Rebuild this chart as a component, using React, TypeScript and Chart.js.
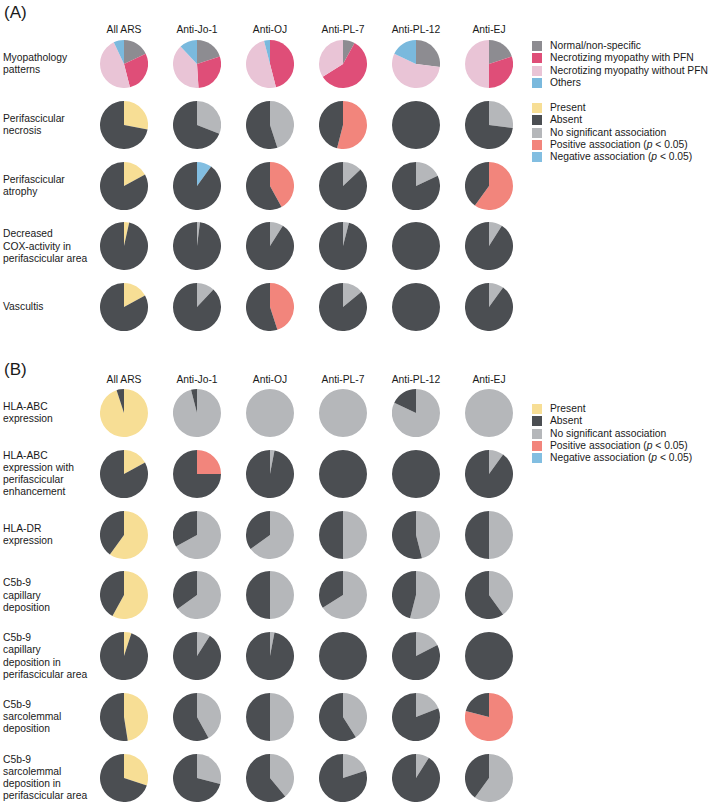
import React, { useEffect, useRef } from "react";
import { Chart, registerables } from "chart.js";

Chart.register(...registerables);

// ---------- DATA ----------
const columns = ["All ARS", "Anti-Jo-1", "Anti-OJ", "Anti-PL-7", "Anti-PL-12", "Anti-EJ"];

// Section A, row 1: myopathology patterns (% of patients)
const normalNonSpecific = [18, 20, 0, 8, 27, 20];
const necrotizingWithPFN = [28, 29, 46, 58, 0, 30];
const necrotizingWithoutPFN = [47, 39, 50, 34, 55, 50];
const othersPattern = [7, 12, 4, 0, 18, 0];

// Binary rows: share of the first slice (present / association), rest = absent
const necrosisShare = [28, 31, 45, 54, 0, 27];
const necrosisKind = ["present", "ns", "ns", "pos", "ns", "ns"];
const atrophyShare = [17, 10, 42, 13, 18, 60];
const atrophyKind = ["present", "neg", "pos", "ns", "ns", "pos"];
const coxShare = [3.5, 2, 9, 4, 0, 9];
const coxKind = ["present", "ns", "ns", "ns", "ns", "ns"];
const vasculitisShare = [17, 12, 45, 14, 0, 10];
const vasculitisKind = ["present", "ns", "pos", "ns", "ns", "ns"];

// Section B
const hlaAbcShare = [95, 96, 100, 100, 82, 100];
const hlaAbcKind = ["present", "ns", "ns", "ns", "ns", "ns"];
const hlaAbcPfShare = [17, 25, 3, 0, 0, 10];
const hlaAbcPfKind = ["present", "pos", "ns", "ns", "ns", "ns"];
const hlaDrShare = [60, 67, 65, 50, 46, 50];
const hlaDrKind = ["present", "ns", "ns", "ns", "ns", "ns"];
const c5CapShare = [58, 65, 50, 66, 54, 40];
const c5CapKind = ["present", "ns", "ns", "ns", "ns", "ns"];
const c5CapPfShare = [5, 9, 3, 0, 17.5, 0];
const c5CapPfKind = ["present", "ns", "ns", "ns", "ns", "ns"];
const c5SarcShare = [47.5, 42, 50, 41, 19, 79];
const c5SarcKind = ["present", "ns", "ns", "ns", "ns", "pos"];
const c5SarcPfShare = [30, 29, 39, 20, 9, 60];
const c5SarcPfKind = ["present", "ns", "ns", "ns", "ns", "ns"];

const patternLabels = ["Normal/non-specific", "Necrotizing myopathy with PFN", "Necrotizing myopathy without PFN", "Others"];
const statusLabels = ["Present", "Absent", "No significant association", "Positive association", "Negative association"];

// ---------- STYLE ----------
const patternColors = ["#8d8c91", "#df4e78", "#e9c4d6", "#7ab9dd"];
const kindColors: Record<string, string> = {
  present: "#f7de95",
  absent: "#4b4e52",
  ns: "#b5b7ba",
  pos: "#f2857c",
  neg: "#82bee1",
};
const FONT = '"Liberation Sans", Arial, Helvetica, sans-serif';
const colX = [124, 197, 270, 343, 416, 489];
const PIE = 48;
const ROW_GAP = 60.8;

type Row = { label: string[]; share?: number[]; kind?: string[]; pattern?: boolean };

const rowsA: Row[] = [
  { label: ["Myopathology", "patterns"], pattern: true },
  { label: ["Perifascicular", "necrosis"], share: necrosisShare, kind: necrosisKind },
  { label: ["Perifascicular", "atrophy"], share: atrophyShare, kind: atrophyKind },
  { label: ["Decreased", "COX-activity in", "perifascicular area"], share: coxShare, kind: coxKind },
  { label: ["Vascultis"], share: vasculitisShare, kind: vasculitisKind },
];
const rowsB: Row[] = [
  { label: ["HLA-ABC", "expression"], share: hlaAbcShare, kind: hlaAbcKind },
  { label: ["HLA-ABC", "expression with", "perifascicular", "enhancement"], share: hlaAbcPfShare, kind: hlaAbcPfKind },
  { label: ["HLA-DR", "expression"], share: hlaDrShare, kind: hlaDrKind },
  { label: ["C5b-9", "capillary", "deposition"], share: c5CapShare, kind: c5CapKind },
  { label: ["C5b-9", "capillary", "deposition in", "perifascicular area"], share: c5CapPfShare, kind: c5CapPfKind },
  { label: ["C5b-9", "sarcolemmal", "deposition"], share: c5SarcShare, kind: c5SarcKind },
  { label: ["C5b-9", "sarcolemmal", "deposition in", "perifascicular area"], share: c5SarcPfShare, kind: c5SarcPfKind },
];

type Cell = { x: number; y: number; labels: string[]; data: number[]; colors: string[] };

function buildCells(rows: Row[], firstY: number): Cell[] {
  const cells: Cell[] = [];
  rows.forEach((r, ri) => {
    const y = firstY + ri * ROW_GAP;
    columns.forEach((_, ci) => {
      if (r.pattern) {
        cells.push({
          x: colX[ci],
          y,
          labels: patternLabels,
          data: [normalNonSpecific[ci], necrotizingWithPFN[ci], necrotizingWithoutPFN[ci], othersPattern[ci]],
          colors: patternColors,
        });
      } else {
        const s = r.share![ci];
        const k = r.kind![ci];
        cells.push({
          x: colX[ci],
          y,
          labels: [k, "Absent"],
          data: [s, 100 - s],
          colors: [kindColors[k], kindColors.absent],
        });
      }
    });
  });
  return cells;
}

const cellsA = buildCells(rowsA, 64);
const cellsB = buildCells(rowsB, 413);
const allCells = [...cellsA, ...cellsB];

const textStyle: React.CSSProperties = {
  position: "absolute",
  fontFamily: FONT,
  fontSize: "10.3px",
  lineHeight: "12.2px",
  color: "#1a1a1a",
  whiteSpace: "nowrap",
};

function RowLabels({ rows, firstY }: { rows: Row[]; firstY: number }) {
  return (
    <>
      {rows.map((r, i) => (
        <div key={i} style={{ ...textStyle, left: 3, top: firstY + i * ROW_GAP, transform: "translateY(-50%)" }}>
          {r.label.map((l, j) => (
            <div key={j}>{l}</div>
          ))}
        </div>
      ))}
    </>
  );
}

function Headers({ y }: { y: number }) {
  return (
    <>
      {columns.map((c, i) => (
        <div key={i} style={{ ...textStyle, left: colX[i], top: y, transform: "translate(-50%,-50%)" }}>
          {c}
        </div>
      ))}
    </>
  );
}

function Legend({ items, colors, top }: { items: React.ReactNode[]; colors: string[]; top: number }) {
  return (
    <>
      {items.map((it, i) => (
        <React.Fragment key={i}>
          <div
            style={{
              position: "absolute",
              left: 532,
              top: top + i * 12.3 - 5,
              width: 10,
              height: 10,
              background: colors[i],
            }}
          />
          <div style={{ ...textStyle, left: 550, top: top + i * 12.3, transform: "translateY(-50%)" }}>{it}</div>
        </React.Fragment>
      ))}
    </>
  );
}

const statusItems: React.ReactNode[] = [
  statusLabels[0],
  statusLabels[1],
  statusLabels[2],
  <span>
    {statusLabels[3]} (<i>p</i> &lt; 0.05)
  </span>,
  <span>
    {statusLabels[4]} (<i>p</i> &lt; 0.05)
  </span>,
];
const statusColors = [kindColors.present, kindColors.absent, kindColors.ns, kindColors.pos, kindColors.neg];

export default function App() {
  const refs = useRef<(HTMLCanvasElement | null)[]>([]);

  useEffect(() => {
    const charts: Chart[] = [];
    allCells.forEach((cell, i) => {
      const cv = refs.current[i];
      if (!cv) return;
      charts.push(
        new Chart(cv, {
          type: "pie",
          data: {
            labels: cell.labels,
            datasets: [{ data: cell.data, backgroundColor: cell.colors, borderWidth: 0 }],
          },
          options: {
            responsive: false,
            animation: false,
            events: [],
            layout: { padding: 0 },
            plugins: { legend: { display: false }, tooltip: { enabled: false } },
          },
        })
      );
    });
    return () => charts.forEach((c) => c.destroy());
  }, []);

  return (
    <div style={{ position: "absolute", left: 0, top: 0, width: 709, height: 806, background: "#fff", overflow: "hidden" }}>
      <div style={{ ...textStyle, left: 4, top: 3, fontSize: "17px", lineHeight: "20px" }}>(A)</div>
      <div style={{ ...textStyle, left: 4, top: 360, fontSize: "17px", lineHeight: "20px" }}>(B)</div>
      <Headers y={30} />
      <Headers y={380} />
      <RowLabels rows={rowsA} firstY={64} />
      <RowLabels rows={rowsB} firstY={413} />
      <Legend items={patternLabels} colors={patternColors} top={46} />
      <Legend items={statusItems} colors={statusColors} top={108} />
      <Legend items={statusItems} colors={statusColors} top={409} />
      {allCells.map((cell, i) => (
        <canvas
          key={i}
          ref={(el) => {
            refs.current[i] = el;
          }}
          width={PIE}
          height={PIE}
          style={{ position: "absolute", left: cell.x - PIE / 2, top: cell.y - PIE / 2, width: PIE, height: PIE }}
        />
      ))}
    </div>
  );
}
